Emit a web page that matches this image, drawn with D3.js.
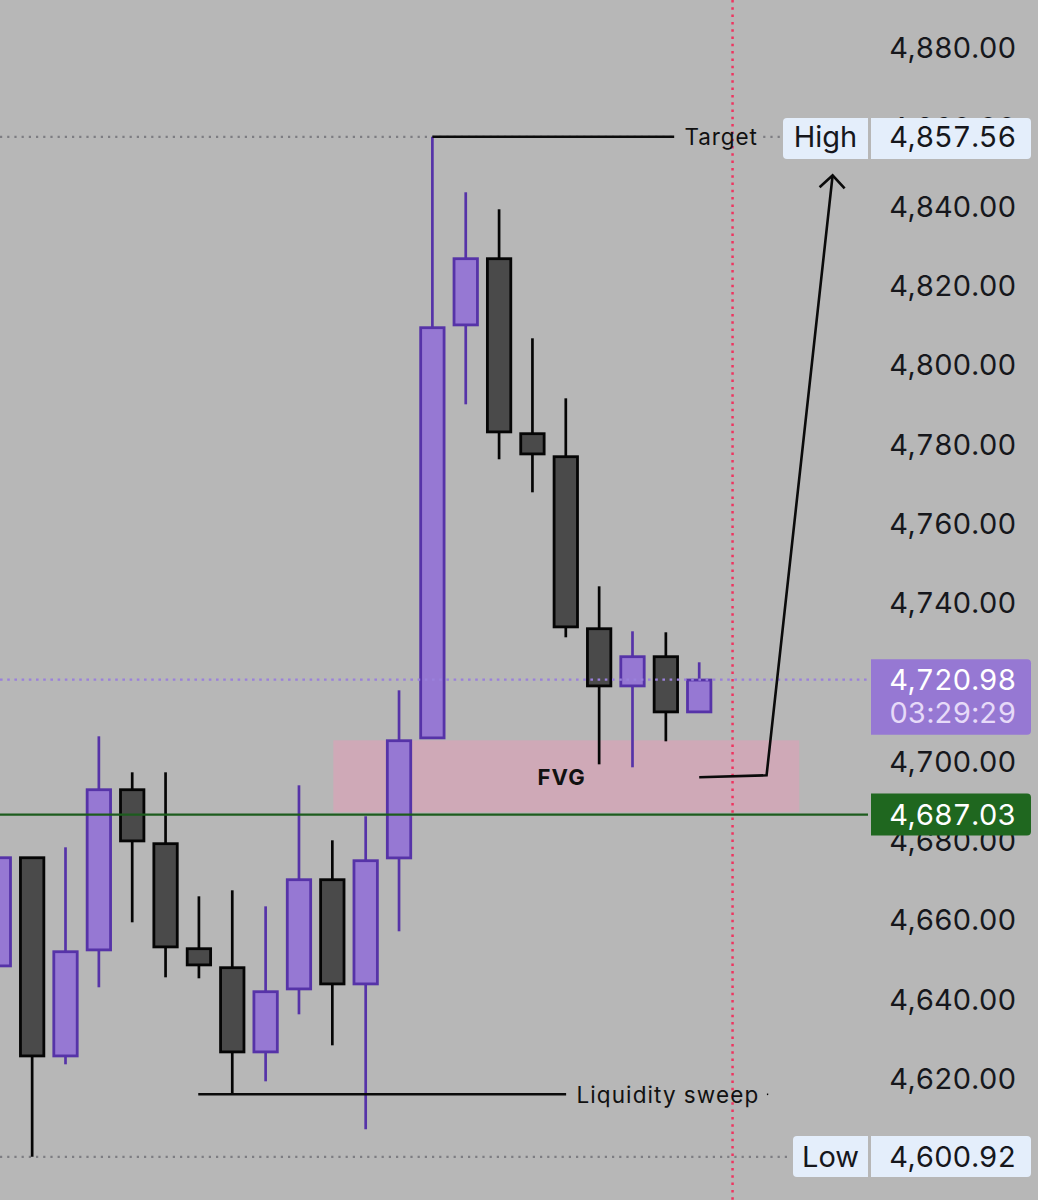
<!DOCTYPE html>
<html>
<head>
<meta charset="utf-8">
<script src="https://cdnjs.cloudflare.com/ajax/libs/d3/7.8.5/d3.min.js"></script>
<style>
html,body{margin:0;padding:0;background:#b7b7b7;overflow:hidden}
svg{display:block}
text{font-family:Inter,"Noto Sans",sans-serif;font-feature-settings:"tnum" 1}
</style>
</head>
<body>
<svg id="c" width="1038" height="1200"></svg>
<script>
// ---- data ----
const candleKinds = ["up","down","up","up","down","down","down","down","up","up","down","up","up","up","up","down","down","down","down","up","down","up"];
const opens  = [4648.85,4676.27,4626.20,4652.88,4693.38,4679.80,4653.38,4648.60,4627.21,4643.06,4670.74,4644.32,4676.02,4706.22,4810.13,4826.99,4782.96,4777.17,4733.89,4719.30,4726.85,4712.76];
const closes = [4676.27,4626.20,4652.62,4693.38,4680.30,4653.63,4649.10,4627.21,4642.56,4670.74,4644.32,4675.52,4705.71,4809.63,4826.99,4783.21,4777.67,4734.15,4719.30,4726.85,4712.76,4720.98];
const highs  = [4676.27,4676.27,4678.79,4706.72,4697.66,4697.66,4666.46,4667.97,4663.94,4694.39,4680.55,4686.59,4718.29,4857.56,4843.60,4839.32,4806.86,4791.76,4744.46,4733.14,4732.89,4725.34];
const lows   = [4648.85,4600.92,4624.19,4643.57,4659.92,4646.08,4645.83,4616.64,4619.91,4636.77,4628.97,4607.84,4657.66,4706.22,4790.25,4776.42,4768.11,4731.63,4699.67,4698.92,4705.46,4712.76];
const axisTicks = [4880,4860,4840,4820,4800,4780,4760,4740,4720,4700,4680,4660,4640,4620];

const highPrice = 4857.56, lowPrice = 4600.92, lastPrice = 4720.98, linePrice = 4687.03;
const countdownLabel = "03:29:29";
const fvgIndex = [10.03, 24.0];
const fvgPrice = [4705.71, 4687.6];
const cursorIndex = 22.0;
const targetLineIndex = [13, 20.25];
const sweepLineIndex = [5.98, 17.01];
const sweepPrice = 4616.64;
const arrowIndex = [21, 23.02, 25.0];
const arrowPrice = [4696.41, 4696.91, 4847.87];
const arrowHeadIndex = [24.61, 25.0, 25.36];
const arrowHeadPrice = [4844.85, 4847.87, 4844.60];

// ---- scales ----
const W = 1038;
const x = d3.scaleLinear().domain([0, 21]).range([-1.2, 699.2]);
const y = d3.scaleLinear().domain([highPrice, lowPrice]).range([136.8, 1156.8]);
const yAxisScale = d3.scaleLinear().domain([4880, 4620]).range([47.3, 1078]);

const INK = "#16171c", UP_FILL = "#9678d3", UP_LINE = "#5633a8", DOWN_FILL = "#4a4a4a", DOWN_LINE = "#050505";
const LABEL_BG = "#e4eefb", FONT = 29, TRACK = "-0.2px";
const svg = d3.select("#c");
svg.append("rect").attr("width", W).attr("height", 1200).attr("fill", "#b7b7b7");

// zone
svg.append("rect")
  .attr("x", x(fvgIndex[0])).attr("width", x(fvgIndex[1]) - x(fvgIndex[0]))
  .attr("y", y(fvgPrice[0])).attr("height", y(fvgPrice[1]) - y(fvgPrice[0]))
  .attr("fill", "#cfa9b7");

// price axis
const axis = d3.axisRight(yAxisScale).tickValues(axisTicks).tickFormat(d3.format(",.2f")).tickSize(0).tickPadding(0);
const axG = svg.append("g").attr("transform", "translate(1016,0)").call(axis);
axG.select(".domain").remove();
axG.selectAll("text").attr("text-anchor", "end").attr("fill", INK)
  .style("font-size", FONT + "px").style("font-family", "Inter,sans-serif")
  .style("font-feature-settings", '"tnum" 1').style("letter-spacing", TRACK).attr("dy", "0.36em");

// dotted level lines
const hline = (price, x2, color, dash, w) => svg.append("line")
  .attr("x1", 0).attr("x2", x2).attr("y1", y(price)).attr("y2", y(price))
  .attr("stroke", color).attr("stroke-width", w).attr("stroke-dasharray", dash);
hline(highPrice, 782, "#7d7d82", "2.2 5", 2.2);
hline(lowPrice, 792, "#7d7d82", "2.2 5", 2.2);

// candles
const idx = d3.range(opens.length);
const g = svg.append("g");
g.selectAll("line.wick").data(idx).join("line").attr("class", "wick")
  .attr("x1", i => x(i)).attr("x2", i => x(i))
  .attr("y1", i => y(highs[i])).attr("y2", i => y(lows[i]))
  .attr("stroke", i => candleKinds[i] === "up" ? UP_LINE : DOWN_LINE).attr("stroke-width", 2.7);
g.selectAll("rect.body").data(idx).join("rect").attr("class", "body")
  .attr("x", i => x(i) - 11.7).attr("width", 23.4)
  .attr("y", i => y(Math.max(opens[i], closes[i])) + 0.4)
  .attr("height", i => Math.max(1, y(Math.min(opens[i], closes[i])) - y(Math.max(opens[i], closes[i])) - 0.8))
  .attr("fill", i => candleKinds[i] === "up" ? UP_FILL : DOWN_FILL)
  .attr("stroke", i => candleKinds[i] === "up" ? UP_LINE : DOWN_LINE).attr("stroke-width", 2.8);

// last price, alert level
hline(lastPrice, 868, "#9a80dc", "2.6 4.6", 2.4);
hline(linePrice, 868, "#1d5c1e", null, 2.2);

// mask that the Target note leaves on the high line
svg.append("rect").attr("x", x(20.3)).attr("width", x(22.85) - x(20.3))
  .attr("y", y(highPrice) - 4).attr("height", 8).attr("fill", "#b7b7b7");

// crosshair
svg.append("line").attr("x1", x(cursorIndex)).attr("x2", x(cursorIndex)).attr("y1", 0).attr("y2", 1200)
  .attr("stroke", "#ee3560").attr("stroke-width", 2.5).attr("stroke-dasharray", "2.5 4.8");

// annotations
const lineGen = d3.line().x(d => x(d[0])).y(d => y(d[1]));
const ann = (pts, w) => svg.append("path").attr("d", lineGen(pts)).attr("fill", "none")
  .attr("stroke", "#0a0a0a").attr("stroke-width", w).attr("stroke-linejoin", "miter");
ann(targetLineIndex.map(i => [i, highPrice]), 2.6);
ann(sweepLineIndex.map(i => [i, sweepPrice]), 2.6);
ann(arrowIndex.map((i, k) => [i, arrowPrice[k]]), 2.6);
ann(arrowHeadIndex.map((i, k) => [i, arrowHeadPrice[k]]), 2.6);
// stray dot after the sweep note
ann([[23.03, sweepPrice], [23.07, sweepPrice]], 1.6);

const note = (t, xp, yp, size, weight, anchor) => svg.append("text").text(t)
  .attr("x", xp).attr("y", yp).attr("dy", "0.36em").attr("fill", "#111")
  .attr("text-anchor", anchor).style("font-size", size + "px").style("font-weight", weight);
note("Target", x(20.56), y(highPrice) + 0.5, 22.5, 400, "start").style("letter-spacing", "0.9px");
note("Liquidity sweep", x(17.32), y(sweepPrice) + 0.5, 22.5, 400, "start").style("letter-spacing", "1.1px");
note("FVG", x(16.88), y(4696.41), 22, 700, "middle").style("letter-spacing", "1.2px");

// price labels
function roundedBox(x0, x1, y0, y1, fill, rl, rr) {
  const p = d3.path();
  p.moveTo(x0 + rl, y0); p.lineTo(x1 - rr, y0); p.arcTo(x1, y0, x1, y0 + rr, rr);
  p.lineTo(x1, y1 - rr); p.arcTo(x1, y1, x1 - rr, y1, rr); p.lineTo(x0 + rl, y1);
  if (rl) p.arcTo(x0, y1, x0, y1 - rl, rl);
  p.lineTo(x0, y0 + rl);
  if (rl) p.arcTo(x0, y0, x0 + rl, y0, rl);
  p.closePath();
  svg.append("path").attr("d", p.toString()).attr("fill", fill);
}
const fmt = d3.format(",.2f");
const boxText = (t, xp, yp, color, anchor, track) => svg.append("text").text(t)
  .attr("x", xp).attr("y", yp).attr("dy", "0.36em").attr("fill", color)
  .attr("text-anchor", anchor).style("font-size", FONT + "px").style("letter-spacing", track || "0");

function hiLo(name, price, left, top, bottom) {
  const c = y(price);
  roundedBox(left, 868, top, bottom, LABEL_BG, 4, 0);
  roundedBox(871, 1031, top, bottom, LABEL_BG, 0, 4);
  boxText(name, (left + 868) / 2, c, INK, "middle");
  boxText(fmt(price), 1016, c, INK, "end", TRACK);
}
hiLo("High", highPrice, 783, 118, 159);
hiLo("Low", lowPrice, 793, 1136, 1177);

const py = y(lastPrice);
roundedBox(871, 1031, py - 20.5, py + 55, "#9678d3", 0, 4);
boxText(fmt(lastPrice), 1016, py - 0.5, "#ffffff", "end", TRACK);
boxText(countdownLabel, 1016, py + 33, "#e6daf8", "end", TRACK);

const gy = y(linePrice);
roundedBox(871, 1031, gy - 21, gy + 21, "#1f671f", 0, 4);
boxText(fmt(linePrice), 1016, gy, "#ffffff", "end", TRACK);
</script>
</body>
</html>
